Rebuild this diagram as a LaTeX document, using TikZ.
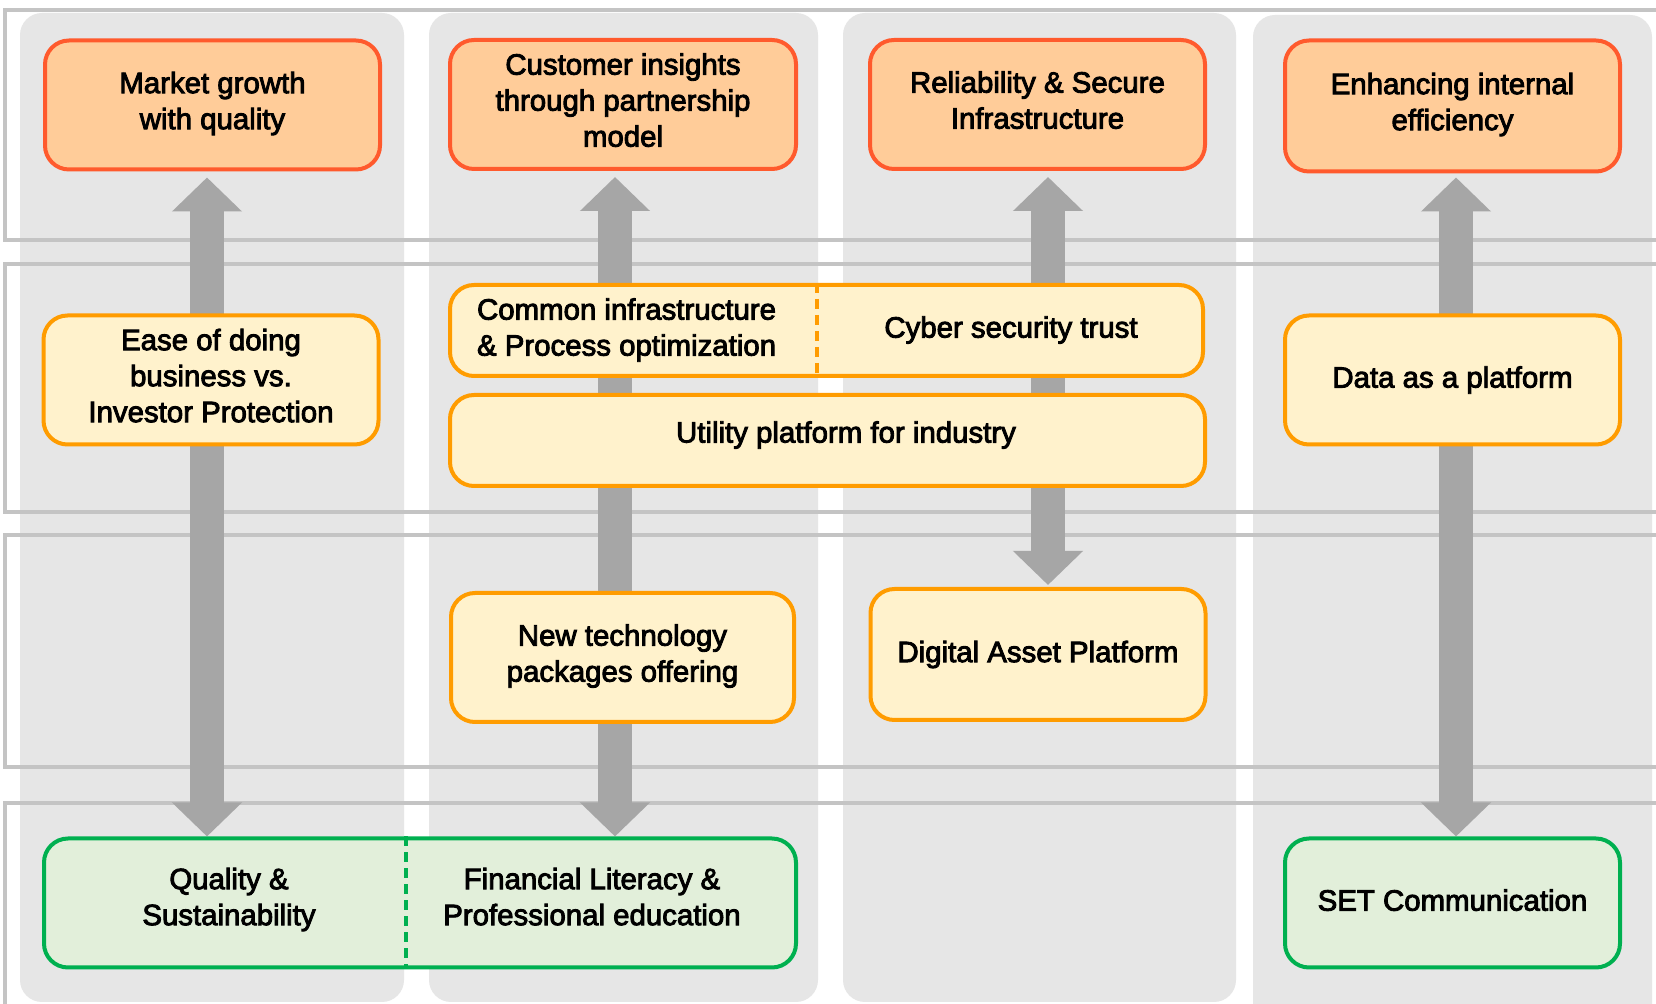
\documentclass[tikz,border=0pt]{standalone}
\usepackage{fontspec}
\newfontfamily\cardfont{Liberation Sans}[FakeBold=3]
\usetikzlibrary{positioning,arrows.meta}

\definecolor{lanegrey}{HTML}{E6E6E6}
\definecolor{bandgrey}{HTML}{C4C4C4}
\definecolor{arrowgrey}{HTML}{A6A6A6}
\definecolor{goalfill}{HTML}{FFCC99}
\definecolor{goaledge}{HTML}{FF5A2D}
\definecolor{pillarfill}{HTML}{FFF2CC}
\definecolor{pillaredge}{HTML}{FF9C00}
\definecolor{basefill}{HTML}{E2EFDA}
\definecolor{baseedge}{HTML}{00B050}

\pgfdeclarelayer{back}
\pgfdeclarelayer{flow}
\pgfsetlayers{back,flow,main}

\begin{document}
\begin{tikzpicture}[x=0.5pt,y=-0.5pt,
		every node/.style={font=\cardfont\fontsize{14.7}{18}\selectfont, align=center},
		card/.style={rectangle, rounded corners=12pt, line width=2pt, minimum width=167.5pt, minimum height=64.5pt, inner sep=0pt},
		goal/.style={card, draw=goaledge, fill=goalfill},
		pillar/.style={card, draw=pillaredge, fill=pillarfill},
		base/.style={card, draw=baseedge, fill=basefill},
		lift/.style={text depth=4.5pt},
		lane/.style={fill=lanegrey, rounded corners=11pt},
		band/.style={draw=bandgrey, line width=2pt},
		bigarrow/.style={draw=arrowgrey, line width=17pt, {Triangle[width=34pt,length=17pt]}-{Triangle[width=34pt,length=17pt]}},
		split/.style={line width=1.6pt, dash pattern=on 5pt off 3pt}]
		\useasboundingbox (0,0) rectangle (1656,1004);
		% Lanes and bands
		\begin{pgfonlayer}{back}
			\fill[white] (0,0) rectangle (1656,1004);
			\fill[lane] (20,13) rectangle (404,1002);
			\fill[lane] (429,13) rectangle (818,1002);
			\fill[lane] (843,13) rectangle (1236,1002);
			\fill[lane] (1253,15) rectangle (1652,1040);
			\draw[band] (5,10) rectangle (1720,240);
			\draw[band] (5,264) rectangle (1720,512);
			\draw[band] (5,535) rectangle (1720,767);
			\draw[band] (5,803) rectangle (1720,1060);
		\end{pgfonlayer}
		% Goals
		\node[goal, lift] (mkt) at (212.5,105) {Market growth\\with quality};
		\node[goal, lift, minimum width=173pt] (cust) at (623,104.5) {Customer insights\\through partnership\\model};
		\node[goal, lift] (rel) at (1037.5,104.5) {Reliability \& Secure\\Infrastructure};
		\node[goal, lift, minimum height=65.5pt] (enh) at (1452.5,106) {Enhancing internal\\efficiency};
		% Pillars
		\node[pillar, lift] (ease) at (211,380) {Ease of doing\\business vs.\\Investor Protection};
		\node[pillar, minimum width=376.5pt, minimum height=45.5pt] (infra) at (826.5,330.5) {};
		\node[anchor=west, align=left] (commontxt) at (470,330) {Common infrastructure\\\& Process optimization};
		\node (cybertxt) at (1011,330) {Cyber security trust};
		\node[pillar, minimum width=377.5pt, minimum height=45.5pt] (util) at (827.5,440.5) {};
		\node (utiltxt) at (846,435) {Utility platform for industry};
		\node[pillar] (data) at (1452.5,380) {Data as a platform};
		\node[pillar, lift, minimum width=171.5pt] (tech) at (622.5,657.5) {New technology\\packages offering};
		\node[pillar, minimum height=65.5pt] (dap) at (1038,654.5) {Digital Asset Platform};
		% Base
		\node[base, minimum width=376pt] (qual) at (420,903) {};
		\node[lift] (qualtxt) at (229,901) {Quality \&\\Sustainability};
		\node[lift] (fintxt) at (592,901) {Financial Literacy \&\\Professional education};
		\node[base, text depth=3pt] (setc) at (1452.5,903) {SET Communication};
		% Split lines
		\coordinate (cut1) at (817,0);
		\coordinate (cut2) at (406,0);
		\draw[split, pillaredge] (infra.north -| cut1) -- (infra.south -| cut1);
		\draw[split, baseedge] (qual.north -| cut2) -- (qual.south -| cut2);
		% Arrows
		\coordinate (c1) at (207,0);
		\coordinate (c2) at (615,0);
		\coordinate (c3) at (1048,0);
		\coordinate (c4) at (1456,0);
		\begin{pgfonlayer}{flow}
			\draw[bigarrow, shorten <=3pt] (mkt.south -| c1) -- (qual.north -| c1);
			\draw[bigarrow, shorten <=3pt] (cust.south -| c2) -- (qual.north -| c2);
			\draw[bigarrow, shorten <=3pt, shorten >=1pt] (rel.south -| c3) -- (dap.north -| c3);
			\draw[bigarrow, shorten <=2pt] (enh.south -| c4) -- (setc.north -| c4);
		\end{pgfonlayer}
\end{tikzpicture}
\end{document}
